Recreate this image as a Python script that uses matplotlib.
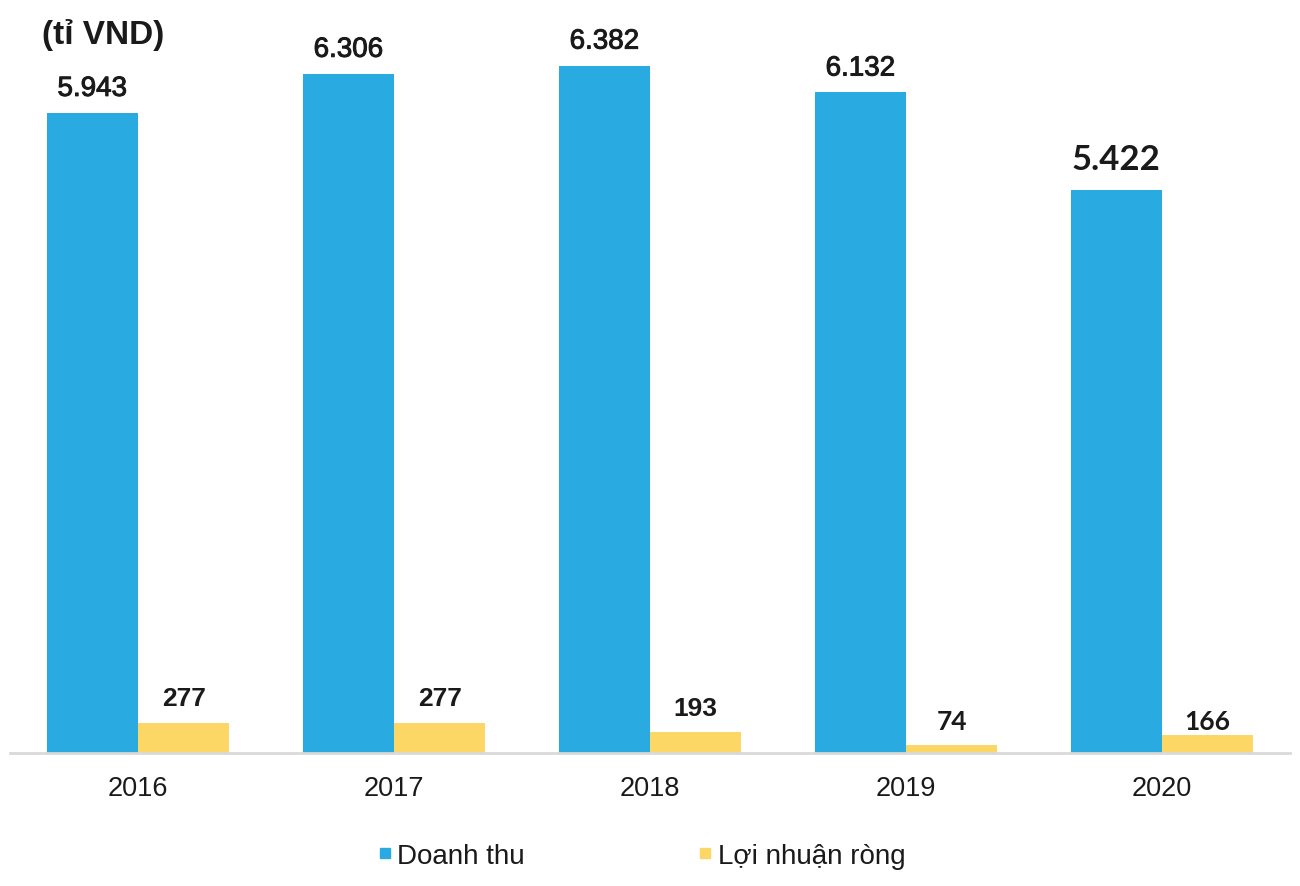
import matplotlib
matplotlib.use("Agg")
import matplotlib.pyplot as plt
import matplotlib.patheffects as pe
from matplotlib.lines import Line2D
import numpy as np

years = ["2016", "2017", "2018", "2019", "2020"]
# bar heights as drawn in the picture (the 2020 bar is drawn shorter than its label)
revenue = [5943, 6306, 6382, 6132, 5230]
profit = [277, 277, 193, 74, 166]
revenue_labels = ["5.943", "6.306", "6.382", "6.132", "5.422"]
profit_labels = ["277", "277", "193", "74", "166"]
series_names = ["Doanh thu", "Lợi nhuận ròng"]
unit_label = "(tỉ VND)"

BLUE = "#29ABE2"
YELLOW = "#FCD766"
TXT = "#1a1a1a"

fig = plt.figure(figsize=(13, 8.87), dpi=100)
ax = fig.add_axes([10 / 1300, 133 / 887, 1280 / 1300, 754 / 887])

x = np.arange(len(years))
w = 0.357
ax.bar(x - w / 2, revenue, w, color=BLUE)
ax.bar(x + w / 2, profit, w, color=YELLOW)

ax.set_xlim(-0.5, len(years) - 0.5)
ax.set_ylim(0, 7000)

# label styles (last labels in a different font as in the reference)
rev_style = [("Liberation Sans", "normal", 20, 12.2)] * 4 + [("Lato", "bold", 25, 15.0)]
prof_style = [("Liberation Sans", "bold", 19, 13.0), ("Liberation Sans", "bold", 19, 13.0),
              ("Liberation Sans", "bold", 19, 12.2), ("Lato", "bold", 19, 11.5),
              ("Lato", "bold", 19, 4.5)]

for i in range(len(years)):
    fam, wt, fs, off = rev_style[i]
    t = ax.annotate(revenue_labels[i], (x[i] - w / 2, revenue[i]), xytext=(0, off),
                    textcoords="offset points", ha="center", va="baseline",
                    fontsize=fs, family=fam, weight=wt, color=TXT)
    if wt == "normal":
        t.set_path_effects([pe.withStroke(linewidth=0.7, foreground=TXT)])
    fam, wt, fs, off = prof_style[i]
    ax.annotate(profit_labels[i], (x[i] + w / 2, profit[i]), xytext=(0, off),
                textcoords="offset points", ha="center", va="baseline",
                fontsize=fs, family=fam, weight=wt, color=TXT)

for s in ["top", "right", "left"]:
    ax.spines[s].set_visible(False)
ax.spines["bottom"].set_color("#d9d9d9")
ax.spines["bottom"].set_linewidth(2)
ax.set_yticks([])
ax.set_xticks(x)
ax.set_xticklabels(years, fontsize=19.5, family="Liberation Sans", color=TXT)
ax.tick_params(axis="x", length=0, pad=16)

fig.text(42 / 1300, 1 - 44 / 887, unit_label, fontsize=24, weight="bold",
         family="Liberation Sans", color=TXT, va="baseline", ha="left")

handles = [Line2D([], [], marker="s", linestyle="none", markersize=6.5, color=BLUE),
           Line2D([], [], marker="s", linestyle="none", markersize=6.5, color=YELLOW)]
fig.legend(handles, series_names, loc="center", bbox_to_anchor=(0.493, 30 / 887),
           ncol=2, frameon=False, prop={"family": "Liberation Sans", "size": 20},
           handletextpad=0.15, columnspacing=6.2, handlelength=0.6, labelcolor=TXT)

fig.savefig("out.png", dpi=100)
